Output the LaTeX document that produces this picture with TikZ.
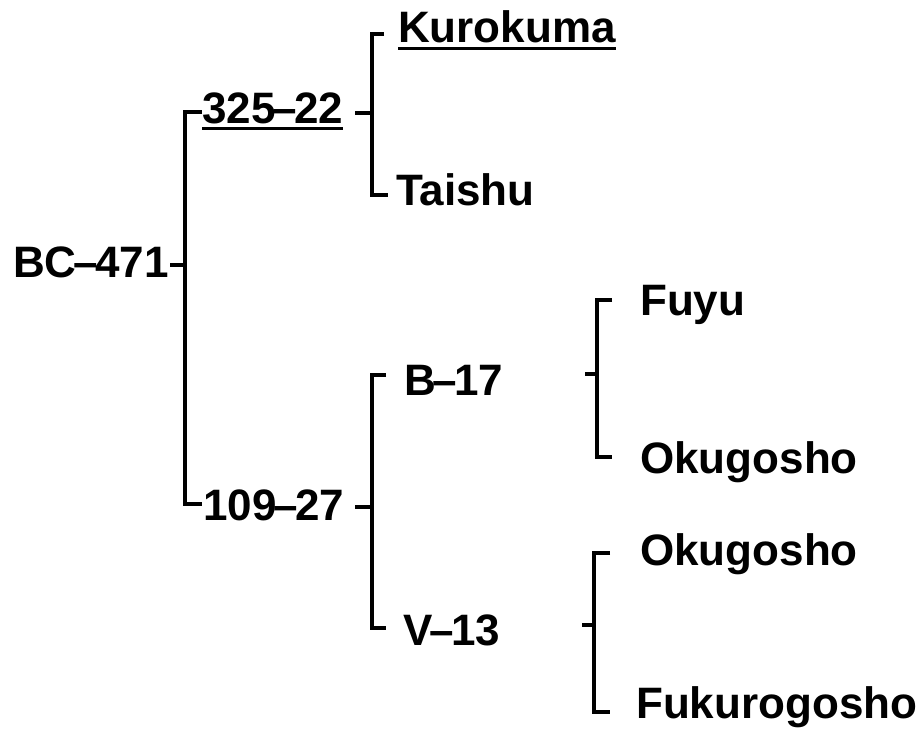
\documentclass[tikz,border=0pt]{standalone}
\usepackage{fontspec}
\setmainfont{Liberation Sans}
\newcommand{\tdash}{\kern-3pt–\kern-3pt}
\begin{document}
\begin{tikzpicture}[x=1pt,y=-1pt,
  tree/.style={line width=4pt, line cap=butt, line join=miter},
  uline/.style={line width=3pt, line cap=butt},
  lbl/.style={anchor=base west, inner sep=0pt, font=\fontsize{44}{50}\selectfont\bfseries}]
\useasboundingbox (0,0) rectangle (924,731);
% labels
\node[lbl] (bc)   at (13,277)  {BC\tdash471};
\node[lbl] (a)    at (202,123) {325\tdash22};
\node[lbl] (k)    at (398,42)  {Kurokuma};
\node[lbl] (t)    at (396,205) {Taishu};
\node[lbl] (b)    at (203,520) {109\tdash27};
\node[lbl] (b17)  at (404,395) {B\tdash17};
\node[lbl] (v13)  at (403,645) {V\tdash13};
\node[lbl] (fu)   at (640,315) {Fuyu};
\node[lbl] (ok1)  at (640,473) {Okugosho};
\node[lbl] (ok2)  at (640,565) {Okugosho};
\node[lbl] (fk)   at (636,718) {Fukurogosho};
% underlines
\draw[uline] ([yshift=-5.5pt]a.base west) -- ([yshift=-5.5pt]a.base east);
\draw[uline] ([yshift=-6.5pt]k.base west) -- ([yshift=-6.5pt]k.base east);
% junction coordinates
\coordinate (r0) at (170,265); \coordinate (r1) at (185,265);
\coordinate (r2) at (202,112); \coordinate (r3) at (202,504);
\coordinate (a0) at (355,113); \coordinate (a1) at (372,113);
\coordinate (a2) at (384,34);  \coordinate (a3) at (388,195);
\coordinate (b0) at (355,507); \coordinate (b1) at (372,507);
\coordinate (b2) at (386,375); \coordinate (b3) at (386,628);
\coordinate (c0) at (585,374); \coordinate (c1) at (597,374);
\coordinate (c2) at (612,300); \coordinate (c3) at (612,457);
\coordinate (d0) at (582,625); \coordinate (d1) at (594,625);
\coordinate (d2) at (610,553); \coordinate (d3) at (610,712);
% connectors
\draw[tree] (r0) -- (r1);
\draw[tree] (r2) -| (r1) |- (r3);
\draw[tree] (a0) -- (a1);
\draw[tree] (a2) -| (a1) |- (a3);
\draw[tree] (b0) -- (b1);
\draw[tree] (b2) -| (b1) |- (b3);
\draw[tree] (c0) -- (c1);
\draw[tree] (c2) -| (c1) |- (c3);
\draw[tree] (d0) -- (d1);
\draw[tree] (d2) -| (d1) |- (d3);
\end{tikzpicture}
\end{document}
